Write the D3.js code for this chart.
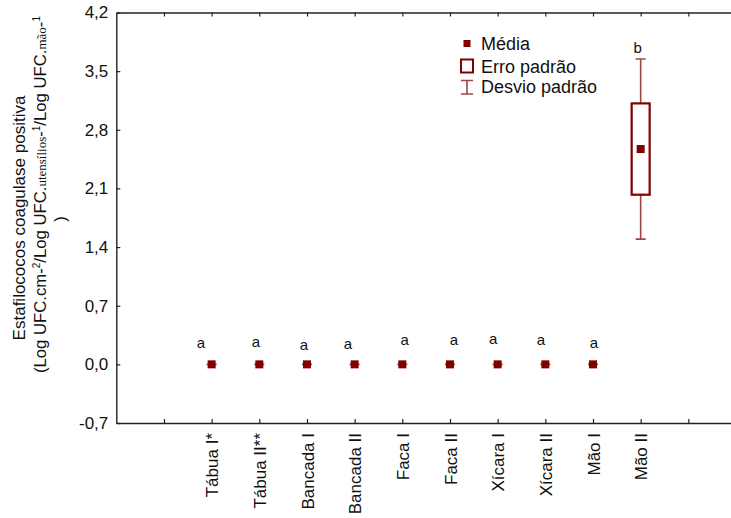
<!DOCTYPE html>
<html>
<head>
<meta charset="utf-8">
<script src="https://cdn.jsdelivr.net/npm/d3@7"></script>
<style>
  html, body { margin: 0; padding: 0; background: #fff; }
  svg { display: block; font-family: "Liberation Sans", Arial, sans-serif; }
</style>
</head>
<body>
<svg id="chart" width="731" height="518"></svg>
<script>
// Surfaces sampled and their summary statistics
const categories = ["Tábua I*", "Tábua II**", "Bancada I", "Bancada II", "Faca I",
                    "Faca II", "Xícara I", "Xícara II", "Mão I", "Mão II"];
const means  = [0, 0, 0, 0, 0, 0, 0, 0, 0, 2.57];
const stdErr = [0, 0, 0, 0, 0, 0, 0, 0, 0, 0.545];
const stdDev = [0, 0, 0, 0, 0, 0, 0, 0, 0, 1.075];
const groupLetters = ["a", "a", "a", "a", "a", "a", "a", "a", "a", "b"];
const yTicks = [-0.7, 0, 0.7, 1.4, 2.1, 2.8, 3.5, 4.2];
const legendLabels = ["Média", "Erro padrão", "Desvio padrão"];

// hand placement of the significance letters (px, relative to the whisker top)
const letterNudge = [[-10.6, -16.7], [-3.3, -17], [-3, -14.4], [-6.6, -15], [2.4, -19],
                     [4, -19], [-4.6, -20], [-4.3, -19], [1, -16], [-3, -6]];

const svg = d3.select("#chart");
const plotLeft = 116.3, plotTop = 12.5, plotBottom = 423;
const dark = "#800000", whisk = "#a04545", axisCol = "#222";

// categories sit at positions 2..11 of a 13-step frame, ticks at 1..12
const x = d3.scaleLinear().domain([0, 13]).range([plotLeft, 736]);
const catPos = i => x(i + 2);
const y = d3.scaleLinear().domain([-0.7, 4.2]).range([plotBottom, plotTop]);

const fmt = v => d3.format(".1f")(v).replace(".", ",").replace("−", "-");

// left axis
const yAxis = d3.axisLeft(y).tickValues(yTicks).tickFormat(fmt)
  .tickSizeInner(-4).tickSizeOuter(0).tickPadding(8);
const gy = svg.append("g").attr("transform", `translate(${plotLeft},0)`).call(yAxis);
gy.select(".domain").attr("stroke", axisCol).attr("stroke-width", 1.4);
gy.selectAll(".tick line").attr("stroke", axisCol).attr("stroke-width", 1.2);
gy.selectAll("text").attr("font-size", 17).attr("fill", "#111")
  .attr("font-family", "Liberation Sans, Arial, sans-serif");

const frameTicks = d3.range(1, 13);
const tickLabels = ["", ...categories, ""];

// bottom axis with rotated category names
const xAxis = d3.axisBottom(x).tickValues(frameTicks).tickFormat(d => tickLabels[d - 1])
  .tickSizeInner(-4).tickSizeOuter(0).tickPadding(0);
const gx = svg.append("g").attr("transform", `translate(0,${plotBottom})`).call(xAxis);
gx.select(".domain").attr("stroke", axisCol).attr("stroke-width", 1.4);
gx.selectAll(".tick line").attr("stroke", axisCol).attr("stroke-width", 1.2);
gx.selectAll(".tick text")
  .attr("font-size", 17).attr("fill", "#111")
  .attr("font-family", "Liberation Sans, Arial, sans-serif")
  .attr("text-anchor", "end")
  .attr("x", 0).attr("y", 0).attr("dy", "0.36em")
  .attr("transform", "translate(0,10) rotate(-90)");

// top frame line
const xTop = d3.axisTop(x).tickValues(frameTicks).tickFormat("")
  .tickSizeInner(-4).tickSizeOuter(0);
const gt = svg.append("g").attr("transform", `translate(0,${plotTop})`).call(xTop);
gt.select(".domain").attr("stroke", axisCol).attr("stroke-width", 1.4);
gt.selectAll(".tick line").attr("stroke", axisCol).attr("stroke-width", 1.2);

// y axis title
const title = svg.append("g").attr("font-size", 17).attr("fill", "#111");
title.append("text")
  .attr("transform", "translate(25,218) rotate(-90)")
  .attr("text-anchor", "middle")
  .text("Estafilococos coagulase positiva");
const t2 = title.append("text")
  .attr("font-size", 16.7)
  .attr("transform", "translate(46,373) rotate(-90)")
  .attr("text-anchor", "start");
const serif = "Liberation Serif, Times New Roman, serif";
t2.append("tspan").text("(Log UFC.cm-");
t2.append("tspan").attr("font-size", 10).attr("dy", -6).text("2");
t2.append("tspan").attr("dy", 6).text("/Log UFC.");
t2.append("tspan").attr("font-family", serif).attr("font-size", 13).text("utensílios");
t2.append("tspan").text("-");
t2.append("tspan").attr("font-size", 10).attr("dy", -6).text("1");
t2.append("tspan").attr("dy", 6).text("/Log UFC.");
t2.append("tspan").attr("font-family", serif).attr("font-size", 13).text("mão");
t2.append("tspan").text("-");
t2.append("tspan").attr("font-size", 10).attr("dy", -6).text("1");
title.append("text")
  .attr("transform", "translate(66,219) rotate(-90)")
  .attr("text-anchor", "middle")
  .text(")");

// marks
const data = categories.map((c, i) => ({
  c, i, m: means[i], se: stdErr[i], sd: stdDev[i], letter: groupLetters[i], nudge: letterNudge[i]
}));
const g = svg.append("g");
const cap = 5, boxHalf = 9, mk = 8;

// whiskers (standard deviation)
g.selectAll(".sd").data(data).join("path")
  .attr("fill", "none").attr("stroke", whisk).attr("stroke-width", 1.6)
  .attr("d", d => {
    const cx = catPos(d.i), y1 = y(d.m + d.sd), y0 = y(d.m - d.sd);
    const ybt = y(d.m + d.se), ybb = y(d.m - d.se);
    return `M${cx - cap},${y1}H${cx + cap}M${cx},${y1}V${ybt}` +
           `M${cx},${ybb}V${y0}M${cx - cap},${y0}H${cx + cap}`;
  });

// boxes (standard error)
g.selectAll(".se").data(data.filter(d => d.se > 0)).join("rect")
  .attr("x", d => catPos(d.i) - boxHalf)
  .attr("y", d => y(d.m + d.se))
  .attr("width", boxHalf * 2)
  .attr("height", d => y(d.m - d.se) - y(d.m + d.se))
  .attr("fill", "#fff").attr("stroke", dark).attr("stroke-width", 2.2);

// means
g.selectAll(".mean").data(data).join("rect")
  .attr("x", d => catPos(d.i) - mk / 2)
  .attr("y", d => y(d.m) - mk / 2)
  .attr("width", mk).attr("height", mk)
  .attr("fill", dark);

// significance letters
g.selectAll(".letter").data(data).join("text")
  .attr("x", d => catPos(d.i) + d.nudge[0])
  .attr("y", d => y(d.m + d.sd) + d.nudge[1])
  .attr("text-anchor", "middle")
  .attr("font-size", 15).attr("fill", "#111")
  .text(d => d.letter);

// legend
const lg = svg.append("g").attr("font-size", 18).attr("fill", "#111");
lg.append("rect").attr("x", 463.5).attr("y", 40).attr("width", 7).attr("height", 7).attr("fill", dark);
lg.append("rect").attr("x", 461).attr("y", 59.5).attr("width", 12).attr("height", 13)
  .attr("fill", "#fff").attr("stroke", dark).attr("stroke-width", 2);
lg.append("path").attr("fill", "none").attr("stroke", whisk).attr("stroke-width", 1.6)
  .attr("d", "M461,80.5H473M467,80.5V94M461,94H473");
const legY = [49.5, 72.5, 93];
lg.selectAll(".lt").data(legendLabels).join("text")
  .attr("x", 481).attr("y", (d, i) => legY[i]).text(d => d);
</script>
</body>
</html>
